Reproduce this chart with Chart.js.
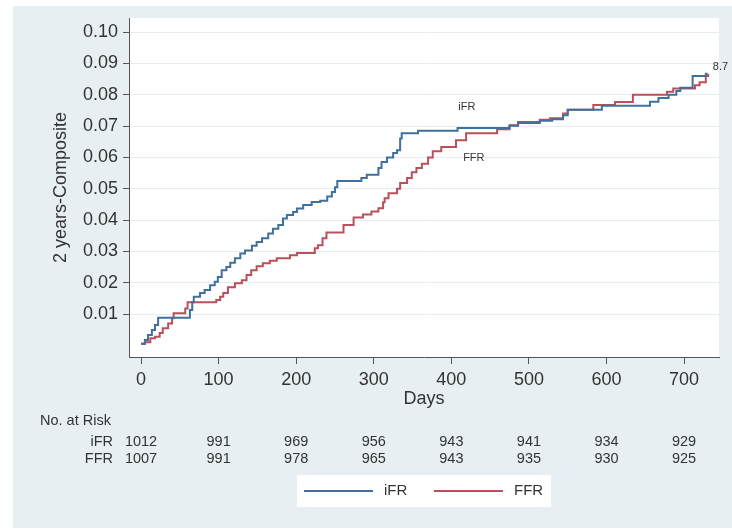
<!DOCTYPE html>
<html>
<head>
<meta charset="utf-8">
<script src="https://cdn.jsdelivr.net/npm/chart.js@4"></script>
<style>
  html, body { margin: 0; padding: 0; background: #ffffff; }
  #wrap { width: 732px; height: 530px; }
</style>
</head>
<body>
<div id="wrap"><canvas id="kmChart" width="732" height="530"></canvas></div>
<script>
// cumulative incidence, step points (day, value)
const ifrDays = [0, 5, 9, 14, 18, 22, 63, 66, 68, 76, 82, 89, 95, 99, 104, 110, 115, 121, 128, 134, 143, 149,
  156, 164, 170, 177, 183, 188, 196, 201, 209, 220, 231, 240, 246, 250, 253, 284, 291, 306, 310, 317, 325,
  330, 334, 336, 357, 408, 475, 486, 514, 530, 544, 550, 594, 656, 667, 680, 690, 695, 711, 728, 730];
const ifrRisk = [0.0005, 0.0017, 0.0033, 0.0049, 0.0065, 0.0088, 0.0113, 0.0138, 0.0155, 0.0167, 0.0177,
  0.0192, 0.0203, 0.0218, 0.0240, 0.0250, 0.0264, 0.0278, 0.0293, 0.0303, 0.0318, 0.0330, 0.0342, 0.0357,
  0.0372, 0.0384, 0.0405, 0.0416, 0.0426, 0.0437, 0.0448, 0.0458, 0.0462, 0.0475, 0.0490, 0.0505, 0.0525,
  0.0534, 0.0545, 0.0566, 0.0585, 0.0600, 0.0614, 0.0623, 0.0660, 0.0677, 0.0685, 0.0694, 0.0701, 0.0710,
  0.0717, 0.0722, 0.0735, 0.0752, 0.0765, 0.0778, 0.0790, 0.0800, 0.0812, 0.0822, 0.0860, 0.0867, 0.0867];

const ffrDays = [0, 5, 12, 18, 24, 28, 35, 40, 42, 57, 60, 97, 102, 106, 112, 121, 130, 136, 142, 149, 157,
  166, 175, 192, 201, 224, 228, 234, 239, 261, 274, 286, 297, 306, 312, 314, 319, 330, 334, 343, 349, 355,
  362, 370, 376, 387, 406, 419, 459, 475, 486, 514, 527, 544, 550, 583, 611, 634, 678, 686, 714, 720, 728, 731];
const ffrRisk = [0.0005, 0.0010, 0.0023, 0.0028, 0.0040, 0.0055, 0.0070, 0.0087, 0.0103, 0.0118, 0.0138,
  0.0145, 0.0155, 0.0167, 0.0186, 0.0198, 0.0208, 0.0225, 0.0240, 0.0253, 0.0262, 0.0270, 0.0278, 0.0288,
  0.0295, 0.0310, 0.0320, 0.0342, 0.0360, 0.0384, 0.0408, 0.0418, 0.0427, 0.0438, 0.0457, 0.0470, 0.0486,
  0.0500, 0.0518, 0.0534, 0.0553, 0.0566, 0.0580, 0.0600, 0.0620, 0.0633, 0.0655, 0.0677, 0.0690, 0.0703,
  0.0713, 0.0720, 0.0725, 0.0740, 0.0752, 0.0767, 0.0777, 0.0800, 0.0810, 0.0820, 0.0830, 0.0840, 0.0860, 0.0867];

const xTicks = [0, 100, 200, 300, 400, 500, 600, 700];
const yTicks = [0.01, 0.02, 0.03, 0.04, 0.05, 0.06, 0.07, 0.08, 0.09, 0.10];

// number at risk table
const riskDays = [0, 100, 200, 300, 400, 500, 600, 700];
const ifrAtRisk = [1012, 991, 969, 956, 943, 941, 934, 929];
const ffrAtRisk = [1007, 991, 978, 965, 943, 935, 930, 925];

// text labels inside the plot: [text, day, value]
const curveLabels = [["iFR", 420, 0.0761], ["FFR", 429, 0.0597]];
const endLabel = ["8.7", 737, 0.0888];

const blue = "#41709d";
const red = "#b9505a";
const textColor = "#333333";
const axisColor = "#555555";
const fontFamily = "'Liberation Sans', Arial, sans-serif";

Chart.defaults.font.family = fontFamily;
Chart.defaults.color = textColor;

// grey panel behind everything, white plot region
const panelPlugin = {
  id: "panel",
  beforeDraw(chart) {
    const { ctx, chartArea } = chart;
    ctx.save();
    ctx.fillStyle = "#e8eff2";
    ctx.fillRect(13, 6, 732 - 13, 528 - 6);
    ctx.fillStyle = "#ffffff";
    ctx.fillRect(chartArea.left, chartArea.top, chartArea.right - chartArea.left, chartArea.bottom - chartArea.top);
    ctx.restore();
  }
};

// curve labels, risk table and legend
const extrasPlugin = {
  id: "extras",
  afterDraw(chart) {
    const { ctx } = chart;
    const xs = chart.scales.x;
    const ys = chart.scales.y;
    ctx.save();

    ctx.fillStyle = textColor;
    ctx.font = "11px " + fontFamily;
    ctx.textAlign = "center";
    ctx.textBaseline = "middle";
    curveLabels.forEach(([t, d, v]) => {
      ctx.fillText(t, xs.getPixelForValue(d), ys.getPixelForValue(v));
    });
    ctx.textAlign = "left";
    ctx.fillText(endLabel[0], xs.getPixelForValue(endLabel[1]), ys.getPixelForValue(endLabel[2]));

    // No. at Risk
    ctx.font = "14.5px " + fontFamily;
    ctx.textAlign = "left";
    ctx.fillText("No. at Risk", 40, 421);
    ctx.textAlign = "right";
    ctx.fillText("iFR", 113, 442);
    ctx.fillText("FFR", 113, 459);
    ctx.textAlign = "center";
    riskDays.forEach((d, i) => {
      const px = xs.getPixelForValue(d);
      ctx.fillText(String(ifrAtRisk[i]), px, 442);
      ctx.fillText(String(ffrAtRisk[i]), px, 459);
    });

    // legend
    ctx.fillStyle = "#ffffff";
    ctx.fillRect(297, 475, 254, 32);
    const items = chart.data.datasets;
    const starts = [304, 434];
    ctx.font = "15px " + fontFamily;
    ctx.textAlign = "left";
    items.forEach((ds, i) => {
      ctx.strokeStyle = ds.borderColor;
      ctx.lineWidth = 2;
      ctx.beginPath();
      ctx.moveTo(starts[i], 491);
      ctx.lineTo(starts[i] + 69, 491);
      ctx.stroke();
      ctx.fillStyle = textColor;
      ctx.fillText(ds.label, starts[i] + 80, 491);
    });

    ctx.restore();
  }
};

const ctx = document.getElementById("kmChart");

new Chart(ctx, {
  type: "line",
  data: {
    datasets: [
      {
        label: "iFR",
        data: ifrDays.map((d, i) => ({ x: d, y: ifrRisk[i] })),
        borderColor: blue,
        borderWidth: 2,
        pointRadius: 0,
        stepped: "before",
        fill: false
      },
      {
        label: "FFR",
        data: ffrDays.map((d, i) => ({ x: d, y: ffrRisk[i] })),
        borderColor: red,
        borderWidth: 2,
        pointRadius: 0,
        stepped: "before",
        fill: false
      }
    ]
  },
  options: {
    responsive: false,
    animation: false,
    layout: { padding: { left: 52, right: 13, top: 18, bottom: 122 } },
    plugins: { legend: { display: false }, tooltip: { enabled: false } },
    scales: {
      x: {
        type: "linear",
        min: -15.5,
        max: 745,
        afterBuildTicks: (scale) => { scale.ticks = xTicks.map(v => ({ value: v })); },
        afterFit: (scale) => { scale.height = 51; },
        ticks: { padding: 5, color: textColor, font: { size: 18 }, callback: (v) => String(v) },
        grid: { display: true, drawOnChartArea: false, tickLength: 7, tickColor: axisColor, tickWidth: 1 },
        border: { color: axisColor, width: 1 },
        title: { display: true, text: "Days", color: textColor, font: { size: 18, lineHeight: 1 }, padding: 0 }
      },
      y: {
        type: "linear",
        min: -0.0037,
        max: 0.1045,
        afterBuildTicks: (scale) => { scale.ticks = yTicks.map(v => ({ value: v })); },
        afterFit: (scale) => { scale.width = 77; },
        ticks: { padding: 5, color: textColor, font: { size: 18 }, callback: (v) => v.toFixed(2) },
        grid: { color: "#e6edf0", lineWidth: 1, tickLength: 6, tickColor: axisColor, tickWidth: 1 },
        border: { color: axisColor, width: 1 },
        title: { display: true, text: "2 years-Composite", color: textColor, font: { size: 18, lineHeight: 1 }, padding: 0 }
      }
    }
  },
  plugins: [panelPlugin, extrasPlugin]
});
</script>
</body>
</html>
